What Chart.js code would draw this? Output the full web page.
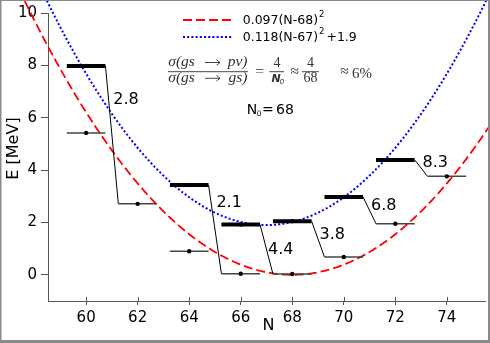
<!DOCTYPE html>
<html>
<head>
<meta charset="utf-8">
<script src="https://cdn.jsdelivr.net/npm/chart.js@4.4.1/dist/chart.umd.min.js"></script>
<style>
	html, body { margin: 0; padding: 0; background: #fff; }
	#wrap { width: 490px; height: 343px; }
</style>
</head>
<body>
<div id="wrap"><canvas id="chart-levels" width="490" height="343"></canvas></div>
<script>
'use strict';

//
// Data
//

var upperN = [60, 64, 66, 68, 70, 72];                         // thick (gs) levels
var upperE = [7.98, 3.43, 1.92, 2.05, 2.97, 4.39];
var lowerN = [60, 62, 64, 66, 68, 70, 72, 74];                 // thin levels
var lowerE = [5.42, 2.71, 0.90, 0.04, 0.03, 0.68, 1.95, 3.76];
var ratioLabels = ['2.8', '2.1', '4.4', '3.8', '6.8', '8.3'];  // one per upper level -> N+2
var ratioLabelE = [6.70, 2.74, 0.95, 1.51, 2.64, 4.29];
var xTicks = [60, 62, 64, 66, 68, 70, 72, 74];
var yTicks = [0, 2, 4, 6, 8, 10];
var redFit = [0.097, 68, 0];     // a(N-N0)^2 + c
var blueFit = [0.118, 67, 1.9];
var fitRangeN = [56.5, 77];

//
// Level scheme chart
//

var LevelChart = (function() {

	// Variables

	var canvas = document.getElementById('chart-levels');
	var halfW = 0.75;
	var spine = '#555';

	// Methods

	// sampled from high N to low N so Chart.js does not trim points outside the x range
	function fitCurve(p) {
		var pts = [];
		for (var n = fitRangeN[1]; n >= fitRangeN[0] - 1e-9; n -= 0.05) {
			pts.push({ x: n, y: p[0] * (n - p[1]) * (n - p[1]) + p[2] });
		}
		return pts;
	}

	function segment(x0, y0, x1, y1, color, width) {
		return {
			type: 'line',
			data: [{ x: x0, y: y0 }, { x: x1, y: y1 }],
			borderColor: color,
			borderWidth: width,
			pointRadius: 0,
			order: 0
		};
	}

	function buildDatasets() {
		var sets = [];
		sets.push({
			type: 'scatter', showLine: true, data: fitCurve(redFit), borderColor: '#ff0000', borderWidth: 1.8,
			borderDash: [9, 4], pointRadius: 0, clip: false, order: 2
		});
		sets.push({
			type: 'scatter', showLine: true, data: fitCurve(blueFit), borderColor: '#0000ff', borderWidth: 2,
			borderDash: [2, 2.2], pointRadius: 0, clip: false, order: 2
		});
		lowerN.forEach(function(n, i) {
			sets.push(segment(n - halfW, lowerE[i], n + halfW, lowerE[i], '#444', 1.5));
		});
		upperN.forEach(function(n, i) {
			sets.push(segment(n - halfW, upperE[i], n + halfW, upperE[i], '#000', 4));
			var j = lowerN.indexOf(n + 2);
			sets.push(segment(n + halfW, upperE[i], n + 2 - halfW, lowerE[j], '#000', 1));
		});
		var dots = [];
		upperN.forEach(function(n, i) { dots.push({ x: n, y: upperE[i] }); });
		lowerN.forEach(function(n, i) { dots.push({ x: n, y: lowerE[i] }); });
		sets.push({
			type: 'scatter', data: dots, pointRadius: 2.2, pointBackgroundColor: '#000',
			pointBorderWidth: 0, showLine: false, order: -1
		});
		return sets;
	}

	function supText(ctx, base, sup, x, y, size) {
		ctx.font = size + 'px "DejaVu Sans"';
		ctx.fillText(base, x, y);
		var w = ctx.measureText(base).width;
		ctx.font = (size * 0.68) + 'px "DejaVu Sans"';
		ctx.fillText(sup, x + w + 1, y - size * 0.55);
		return x + w + 1 + ctx.measureText(sup).width;
	}

	function fracBar(ctx, x0, x1, y) {
		ctx.beginPath();
		ctx.moveTo(x0, y);
		ctx.lineTo(x1, y);
		ctx.stroke();
	}

	function arrow(ctx, x0, x1, y) {
		fracBar(ctx, x0, x1, y);
		ctx.beginPath();
		ctx.moveTo(x1 - 3.5, y - 2.8);
		ctx.lineTo(x1, y);
		ctx.lineTo(x1 - 3.5, y + 2.8);
		ctx.stroke();
	}

	var annotations = {
		id: 'annotations',
		afterDraw: function(chart) {
			var ctx = chart.ctx, xs = chart.scales.x, ys = chart.scales.y;
			ctx.save();

			// inner half of x ticks
			ctx.strokeStyle = spine;
			ctx.lineWidth = 1;
			xTicks.forEach(function(v) {
				var px = Math.round(xs.getPixelForValue(v)) + 0.5;
				ctx.beginPath();
				ctx.moveTo(px, ys.bottom);
				ctx.lineTo(px, ys.bottom - 4);
				ctx.stroke();
			});

			// transition ratio labels
			ctx.fillStyle = '#000';
			ctx.font = '16px "DejaVu Sans"';
			ctx.textAlign = 'center';
			ctx.textBaseline = 'middle';
			ratioLabels.forEach(function(t, i) {
				ctx.fillText(t, xs.getPixelForValue(upperN[i] + 1.55), ys.getPixelForValue(ratioLabelE[i]));
			});

			// axis titles
			ctx.fillText('N', 268.5, 326);
			ctx.save();
			ctx.translate(14, 148.5);
			ctx.rotate(-Math.PI / 2);
			ctx.fillText('E [MeV]', 0, 0);
			ctx.restore();

			// legend
			ctx.textAlign = 'left';
			ctx.textBaseline = 'alphabetic';
			ctx.lineWidth = 1.8;
			ctx.strokeStyle = '#ff0000';
			ctx.setLineDash([9, 4]);
			fracBar(ctx, 183, 232, 20);
			ctx.lineWidth = 2;
			ctx.strokeStyle = '#0000ff';
			ctx.setLineDash([2, 2.2]);
			fracBar(ctx, 183, 232, 37);
			ctx.setLineDash([]);
			supText(ctx, '0.097(N-68)', '2', 242.7, 24, 12.5);
			var end = supText(ctx, '0.118(N-67)', '2', 242.7, 40.7, 12.5);
			ctx.font = '12.5px "DejaVu Sans"';
			ctx.fillText('+1.9', end + 2, 40.7);

			// cross-section ratio formula
			ctx.fillStyle = '#333';
			ctx.strokeStyle = '#333';
			ctx.lineWidth = 0.9;
			var serif = 'italic 15.5px "Liberation Serif"';
			var upright = '15.5px "Liberation Serif"';
			var digits = '14px "Liberation Serif"';
			ctx.font = serif;
			ctx.textAlign = 'left';
			ctx.fillText('σ(gs', 168.3, 66);
			ctx.fillText('σ(gs', 168.3, 82);
			ctx.textAlign = 'right';
			ctx.fillText('pv)', 247.5, 66);
			ctx.fillText('gs)', 247.5, 82);
			arrow(ctx, 205, 220, 62.5);
			arrow(ctx, 205, 220, 78.3);
			fracBar(ctx, 168, 248, 71.7);
			ctx.font = upright;
			ctx.textAlign = 'center';
			ctx.fillText('=', 259.5, 76);
			ctx.font = digits;
			ctx.fillText('4', 277, 67);
			fracBar(ctx, 269.3, 284, 71.7);
			ctx.font = 'bold italic 11px "DejaVu Sans"';
			ctx.fillText('N', 276, 82.3);
			ctx.font = 'italic 7px "DejaVu Sans"';
			ctx.fillText('0', 282, 83.5);
			ctx.font = upright;
			ctx.fillText('≈', 294.7, 76);
			ctx.font = digits;
			ctx.fillText('4', 310.5, 67);
			fracBar(ctx, 302, 319, 71.7);
			ctx.fillText('68', 310.5, 82);
			ctx.font = upright;
			ctx.fillText('≈', 344.5, 76);
			ctx.textAlign = 'left';
			ctx.font = '15px "Liberation Serif"';
			ctx.fillText('6%', 352, 78);

			// N0 = 68
			ctx.fillStyle = '#000';
			ctx.font = '14px "DejaVu Sans"';
			ctx.fillText('N', 246.7, 114);
			ctx.fillText('=', 262, 114);
			ctx.fillText('68', 276, 114);
			ctx.font = '7.5px "DejaVu Sans"';
			ctx.fillText('0', 256.7, 115.5);

			// figure frame
			ctx.fillStyle = '#8a8a8a';
			ctx.fillRect(0, 0, 490, 1);
			ctx.fillRect(0, 0, 1.5, 343);
			ctx.fillRect(488, 0, 2, 343);
			ctx.fillRect(0, 340, 490, 3);

			ctx.restore();
		}
	};

	function init(el) {
		var tickFont = { family: 'DejaVu Sans', size: 15 };
		var levelChart = new Chart(el, {
			type: 'scatter',
			data: { datasets: buildDatasets() },
			options: {
				responsive: false,
				animation: false,
				events: [],
				layout: { padding: { top: 13, right: 5, left: 0, bottom: 0 } },
				plugins: { legend: { display: false }, tooltip: { enabled: false } },
				scales: {
					x: {
						type: 'linear', min: 58.52, max: 75.48,
						afterBuildTicks: function(s) { s.ticks = xTicks.map(function(v) { return { value: v }; }); },
						afterFit: function(s) { s.height = 42; },
						grid: { drawOnChartArea: false, tickLength: 4, color: spine },
						border: { color: spine, width: 1 },
						ticks: { font: tickFont, color: '#000', padding: 4, maxRotation: 0 }
					},
					y: {
						type: 'linear', min: -1, max: 10,
						afterBuildTicks: function(s) { s.ticks = yTicks.map(function(v) { return { value: v }; }); },
						afterFit: function(s) { s.width = 48; },
						grid: { drawOnChartArea: false, tickLength: 7, color: spine },
						border: { color: spine, width: 1 },
						ticks: { font: tickFont, color: '#000', padding: 4 }
					}
				}
			},
			plugins: [annotations]
		});
		return levelChart;
	}

	// Events

	if (canvas) {
		return init(canvas);
	}

})();
</script>
</body>
</html>
